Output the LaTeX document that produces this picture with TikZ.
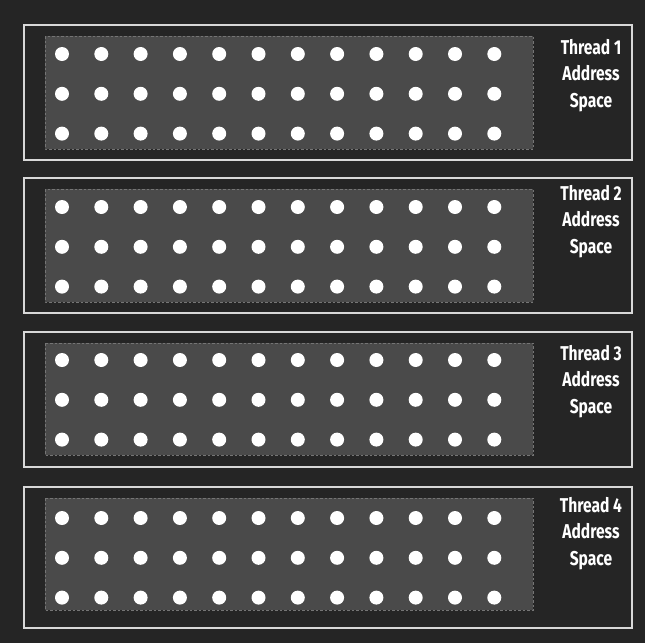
\documentclass[tikz,border=0pt]{standalone}
\usepackage{fontspec}
\newfontfamily\tagfont[FakeStretch=0.78]{Fira Sans}
\usetikzlibrary{positioning}

\definecolor{bgcol}{HTML}{252525}
\definecolor{panelline}{HTML}{D8D8D8}
\definecolor{areafill}{HTML}{4A4A4A}
\definecolor{areaedge}{HTML}{757575}

\begin{document}
\begin{tikzpicture}[x=1pt,y=-1pt
	,panel/.style={draw=panelline,line width=1.5pt}
	,area/.style={fill=areafill,draw=areaedge,line width=1pt,dash pattern=on 2.5pt off 2pt}
	,dot/.style={circle,fill=white,inner sep=0pt,minimum size=14pt}
	,tag/.style={text=white,align=center,inner sep=0pt
		,font=\tagfont\bfseries\fontsize{20}{26.5}\selectfont}]
  % background, fixes the page size
  \useasboundingbox (0,0) rectangle (645,643);
  \fill[bgcol] (0,0) rectangle (645,643);

  % one panel per thread: top/bottom/area bottom/first row/text top/number
  \foreach \t/\b/\a/\y/\s/\n in {25/160/149/54/39/1,178/313/302/207/185/2,
                                 332/467/455/360/345/3,487/628/610/518/497/4}{
    \draw[panel] (24,\t) rectangle (632,\b);
    \draw[area] (45,\t+11) rectangle (533,\a);
    % 3 rows of 12 dots
    \foreach \r in {0,1,2}{
      \foreach \c in {0,...,11}{
        \node[dot] (d\n-\r-\c) at ({62+39.3*\c},{\y+39.8*\r}) {};
      }
    }
    \node[tag,anchor=north] (tag\n) at (591,\s) {Thread \n\\Address\\Space};
  }
\end{tikzpicture}
\end{document}
